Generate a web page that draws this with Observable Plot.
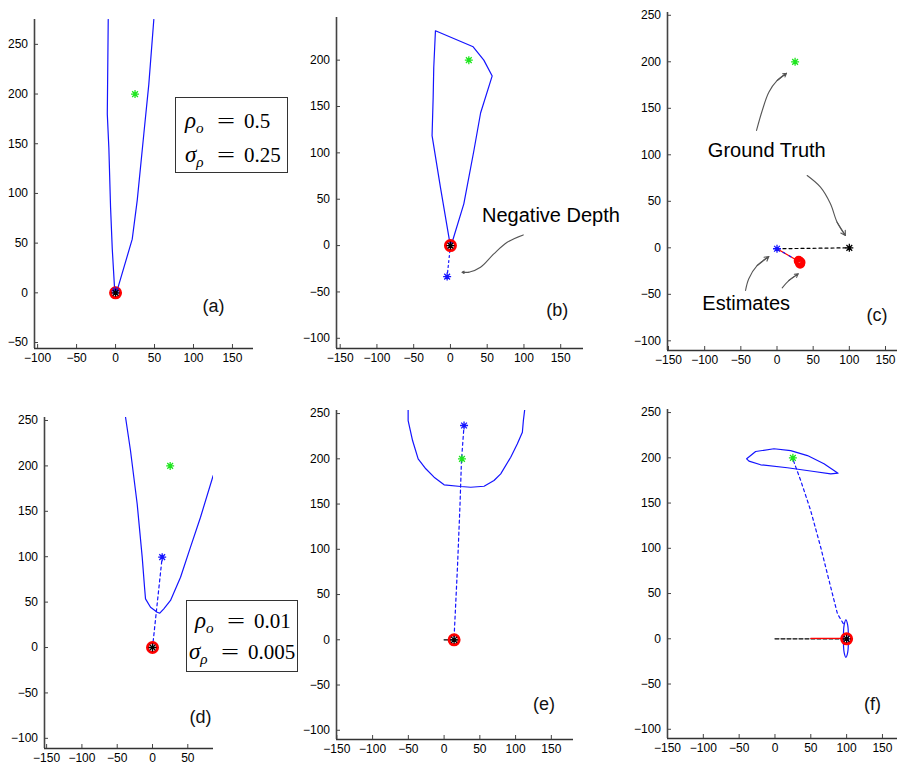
<!DOCTYPE html>
<html><head><meta charset="utf-8">
<script src="https://cdn.jsdelivr.net/npm/d3@7"></script>
<script src="https://cdn.jsdelivr.net/npm/@observablehq/plot@0.6"></script>
<style>
html,body{margin:0;padding:0;background:#fff;overflow:hidden}
#fig{position:relative;width:897px;height:765px;background:#fff;overflow:hidden;font-family:"Liberation Sans",Arial,sans-serif}
#fig svg{position:absolute}
.box{position:absolute;border:1.5px solid #333;background:#fff;font-family:"Liberation Serif","Times New Roman",serif;color:#000;box-sizing:border-box}
.ln{position:absolute;white-space:nowrap;font-size:20px;line-height:20px}
.v{font-style:italic;display:inline-block;width:31px;font-size:23px}
.v sub{font-size:0.66em;vertical-align:-0.3em;line-height:0}
.eq{display:inline-block;width:20px;text-align:center;transform:scaleX(1.6)}
.num{display:inline-block;margin-left:8px;font-size:21px}
</style></head><body><div id="fig"></div>
<script>
// ---------------- data (data units) ----------------
const groundTruth = [[25, 200]];

// (a) rho_o = 0.5, sigma = 0.25
const aBoundary = [[-9.4,275],[-9.9,235],[-10.6,180],[-8.6,146],[-6.4,86],[-4.2,44],[-1.3,5],[0,2],[3,5],[21.4,54],[27.8,93],[36.3,160],[42.7,210],[49.1,275]];
const aEstimate = [[0, 2]];
const aStart = [[0, 0]];

// (b)
const bBoundary = [[-20.4,231.7],[30.9,214.4],[45.4,200],[56.8,183],[41,143],[31.8,102],[18.2,45],[2.3,3.6],[-0.5,1.5],[-13.6,62.8],[-25,118.5],[-23.5,160],[-22.7,192],[-20.4,231.7]];
const bStart = [[0, 0]];
const bEstimate = [[-4.5, -33.4]];
const bArrow = [[99,11.5],[77.2,3.6],[59,-9],[40.9,-23.4],[25,-28.8],[15.9,-28.8]];
const bNote = [{x: 43, y: 32, text: "Negative Depth"}];

// (c)
const cEstimate = [[0, -1]];
const cTruthCam = [[100, 0]];
const cRedEnd = [31, -15];
const cRed = [[31, -15], [32, -17], [30, -14], [32.5, -15.5]];
const cArrowGT1 = [[-28.3,126.2],[-20.4,147.6],[-11.3,167.3],[0.3,179.9],[13.1,187.7]];
const cArrowGT2 = [[41.7,77.7],[60.1,65.2],[73.9,47.3],[83.1,27.5],[94.6,13.2]];
const cArrowE1 = [[-43.5,-45.9],[-39,-33.3],[-27.3,-19],[-11.3,-9.4]];
const cArrowE2 = [[7.2,-43],[16.3,-35.2],[29.3,-28]];
const cNotes = [{x: -95.6, y: 104.3, text: "Ground Truth"}, {x: -103.3, y: -60.5, text: "Estimates"}];

// (d) rho_o = 0.01, sigma = 0.005
const dBoundary = [[-38.2,253.6],[-31.2,217],[-21.7,158],[-14.6,99.5],[-11.3,66.4],[-9.9,53.6],[-2.8,44.4],[6.7,38.9],[10.3,37.8],[16,42.6],[25.5,51.8],[39.7,77.4],[53.8,110.5],[68,143.5],[86,189.4]];
const dStart = [[0, 0]];
const dEstimate = [[13.7, 99.5]];

// (e)
const eBoundary = [[-50.3,254.1],[-50.3,242.3],[-44.1,220.2],[-36.3,200],[-25.6,189],[-14,179.7],[0,171.3],[23.3,169.4],[37.3,168.6],[55.9,169.7],[69.8,176],[79.2,183.4],[93.2,201.8],[102.5,216.6],[109.5,229.4],[110.9,242.3],[112.7,254.1]];
const eTrack = [[14,3],[18.7,80.2],[22.3,150.3],[24.3,198],[27.9,236.8]];
const eCamLine = [[0,0],[18,0]];
const eCam = [[14, 0]];
const eEstimate = [[27.9, 236.8]];

// (f)
const fBoundary = [[-39.5,198.9],[-27,207],[-1.4,210],[21.9,208],[45.3,202.5],[68.4,193.4],[88,183],[77.8,182.3],[54.5,184.9],[17.3,189],[-20,192.3],[-36.3,196.3],[-39.5,198.9]];
const fTrack = [[25.7,197],[35.9,175],[49.8,141.8],[63.8,101.2],[77.8,57],[87.2,27.6],[95.5,16.6]];
const fSmall = [[99,21],[101.5,15],[102.5,0],[101.5,-15],[99,-20.5],[96.5,-15],[95.5,0],[96.5,15]];
const fBlackLine = [[0,0],[100,0]];
const fRedLine = [[50,0.5],[100,0.5]];
const fCam = [[100, 0]];

const panelLabels = {a: [125.6,-13], b: [145.4,-70], c: [138.4,-72.8], d: [68,-76.8], e: [139.7,-70.7], f: [136,-71.8]};
const ticks150 = [-150,-100,-50,0,50,100,150];

// ---------------- helpers ----------------
const BLUE = "#1414ff", GREEN = "#1ee61e", RED = "#ff0000", ARROW = "#555";
const matlabStar = {draw(ctx, size) {
  const r = Math.sqrt(size / Math.PI), d = r * 0.72;
  ctx.moveTo(-r,0); ctx.lineTo(r,0); ctx.moveTo(0,-r); ctx.lineTo(0,r);
  ctx.moveTo(-d,-d); ctx.lineTo(d,d); ctx.moveTo(-d,d); ctx.lineTo(d,-d);
}};
const X = d => d[0], Y = d => d[1];
const star = (data, color) => Plot.dot(data, {x: X, y: Y, symbol: matlabStar, r: 4, stroke: color, fill: "none", strokeWidth: 1.3});
const ring = (data, r = 5) => Plot.dot(data, {x: X, y: Y, r, stroke: RED, fill: "none", strokeWidth: 3});
const solid = (data, color, extra = {}) => Plot.line(data, {x: X, y: Y, stroke: color, strokeWidth: 1.2, clip: true, ...extra});
const dashed = (data, color, extra = {}) => Plot.line(data, {x: X, y: Y, stroke: color, strokeWidth: 1.2, strokeDasharray: "3,3", ...extra});
const arrow = (data) => [
  Plot.line(data, {x: X, y: Y, stroke: ARROW, strokeWidth: 1.1, curve: "catmull-rom"}),
  Plot.arrow([data.slice(-2)], {x1: d => d[0][0], y1: d => d[0][1], x2: d => d[1][0], y2: d => d[1][1], stroke: ARROW, strokeWidth: 1.1, headLength: 10})
];
const notes = (data) => Plot.text(data, {x: "x", y: "y", text: "text", textAnchor: "start", lineAnchor: "middle", fontSize: 20, fill: "#000", fontFamily: "Liberation Sans, Arial, sans-serif"});
const label = (k) => Plot.text([{x: panelLabels[k][0], y: panelLabels[k][1], t: `(${k})`}], {x: "x", y: "y", text: "t", fontSize: 18, fill: "#111", fontFamily: "Liberation Sans, Arial, sans-serif"});

function panel({frame: [x0, x1, y0, y1], xd, yd, xt, yt, marks}) {
  const mL = 45, mR = 60, mT = 10, mB = 28;
  const svg = Plot.plot({
    width: x1 - x0 + mL + mR, height: y1 - y0 + mT + mB,
    marginLeft: mL, marginRight: mR, marginTop: mT, marginBottom: mB,
    x: {domain: xd, label: null}, y: {domain: yd, label: null},
    style: {background: "transparent", overflow: "visible", fontFamily: "Liberation Sans, Arial, sans-serif", fontSize: "12px"},
    marks: [
      ...marks,
      Plot.ruleX([xd[0]], {stroke: "#444", strokeWidth: 1.6}),
      Plot.ruleY([yd[0]], {stroke: "#333", strokeWidth: 1.6}),
      Plot.axisX(xt, {label: null, tickSize: -4, tickPadding: 9, stroke: "#444", fill: "#000", fontSize: 12}),
      Plot.axisY(yt, {label: null, tickSize: -4, tickPadding: 10.5, stroke: "#444", fill: "#000", fontSize: 12})
    ]
  });
  svg.style.left = (x0 - mL) + "px";
  svg.style.top = (y0 - mT) + "px";
  document.getElementById("fig").appendChild(svg);
}

panel({frame: [34, 253, 19, 348], xd: [-104, 177], yd: [-56, 275], xt: [-100,-50,0,50,100,150], yt: [-50,0,50,100,150,200,250],
  marks: [solid(aBoundary, BLUE), star(groundTruth, GREEN), ring(aStart), star(aEstimate, BLUE), star(aStart, "#000"), label("a")]});

panel({frame: [336, 583, 17, 348], xd: [-155, 181], yd: [-111, 246], xt: ticks150, yt: [-100,-50,0,50,100,150,200],
  marks: [solid(bBoundary, BLUE), dashed([bStart[0], bEstimate[0]], BLUE, {strokeDasharray: "2,3"}), star(groundTruth, GREEN), ring(bStart), star(bStart, "#000"), star(bEstimate, BLUE), ...arrow(bArrow), notes(bNote), label("b")]});

panel({frame: [667, 897, 12, 350], xd: [-151.4, 166.6], yd: [-110.4, 253], xt: ticks150, yt: [-100,-50,0,50,100,150,200,250],
  marks: [dashed([cEstimate[0], cTruthCam[0]], "#000"), solid([cEstimate[0], cRedEnd], RED), dashed([cEstimate[0], cRedEnd], BLUE, {strokeDasharray: "2,5"}), star(groundTruth, GREEN), ring(cRed, 3.5), star(cEstimate, BLUE), star(cTruthCam, "#000"), ...arrow(cArrowGT1), ...arrow(cArrowGT2), ...arrow(cArrowE1), ...arrow(cArrowE2), notes(cNotes), label("c")]});

panel({frame: [44, 213, 417, 748], xd: [-153, 86.4], yd: [-111.2, 253.3], xt: [-150,-100,-50,0,50], yt: [-100,-50,0,50,100,150,200,250],
  marks: [solid(dBoundary, BLUE), dashed([dStart[0], dEstimate[0]], BLUE), star(groundTruth, GREEN), ring(dStart), star(dStart, "#000"), star(dEstimate, BLUE), label("d")]});

panel({frame: [336, 573, 410, 739], xd: [-150.5, 181], yd: [-110.2, 253.4], xt: ticks150, yt: [-100,-50,0,50,100,150,200,250],
  marks: [solid(eBoundary, BLUE), dashed(eTrack, BLUE), solid(eCamLine, "#000"), star(groundTruth, GREEN), ring(eCam), star(eCam, "#000"), star(eEstimate, BLUE), label("e")]});

panel({frame: [667, 897, 409, 738], xd: [-150, 171], yd: [-110.2, 253.4], xt: ticks150, yt: [-100,-50,0,50,100,150,200,250],
  marks: [solid(fBoundary, BLUE), dashed(fTrack, BLUE), solid(fSmall, BLUE, {curve: "catmull-rom-closed"}), dashed(fBlackLine, "#000", {strokeDasharray: "4,2"}), solid(fRedLine, RED), star(groundTruth, GREEN), ring(fCam), star(fCam, "#000"), label("f")]});

// parameter boxes
const params = [
  {left: 175, top: 97, w: 113, h: 76, lines: [{sym: "ρ", sub: "o", val: "0.5", x: 9, y: 13}, {sym: "σ", sub: "ρ", val: "0.25", x: 9, y: 47}]},
  {left: 186, top: 600, w: 112, h: 72, lines: [{sym: "ρ", sub: "o", val: "0.01", x: 8, y: 10}, {sym: "σ", sub: "ρ", val: "0.005", x: 2, y: 41}]}
];
for (const p of params) {
  const box = document.createElement("div");
  box.className = "box";
  Object.assign(box.style, {left: p.left + "px", top: p.top + "px", width: p.w + "px", height: p.h + "px"});
  for (const l of p.lines) {
    const ln = document.createElement("div");
    ln.className = "ln";
    ln.style.left = l.x + "px"; ln.style.top = l.y + "px";
    ln.innerHTML = `<span class="v">${l.sym}<sub>${l.sub}</sub></span><span class="eq">=</span><span class="num">${l.val}</span>`;
    box.appendChild(ln);
  }
  document.getElementById("fig").appendChild(box);
}
</script>
</body></html>
